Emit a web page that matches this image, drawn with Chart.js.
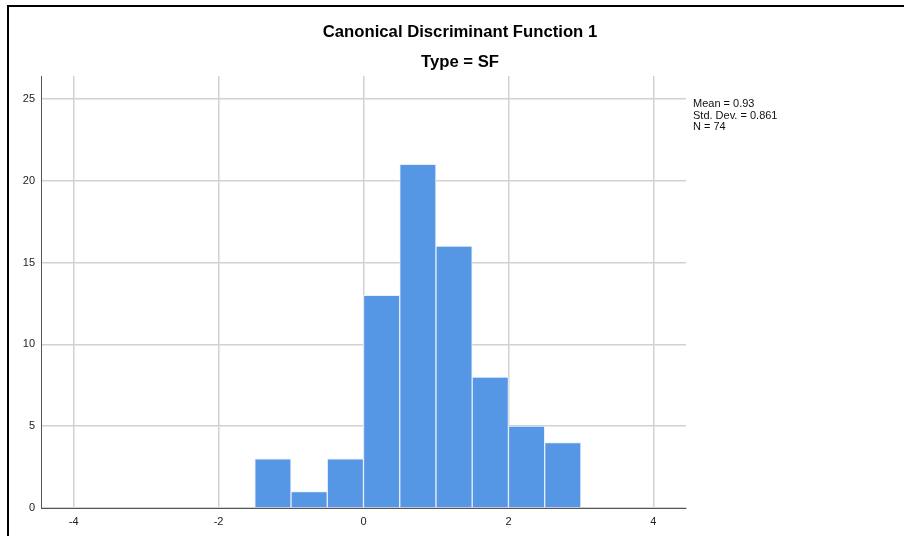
<!DOCTYPE html>
<html>
<head>
<meta charset="UTF-8">
<title>Canonical Discriminant Function 1</title>
<style>
  body { margin: 0; background: #fff; }
  #wrap { position: relative; width: 904px; height: 536px; }
</style>
<script src="https://cdn.jsdelivr.net/npm/chart.js"></script>
</head>
<body>
<div id="wrap"><canvas id="hist" width="904" height="536"></canvas></div>
<script>
// histogram bins (lower edge), width 0.5
const binStarts = [-1.5, -1.0, -0.5, 0.0, 0.5, 1.0, 1.5, 2.0, 2.5];
const counts = [3, 1, 3, 13, 21, 16, 8, 5, 4];
const binWidth = 0.5;
const xTicks = [-4, -2, 0, 2, 4];
const yTicks = [0, 5, 10, 15, 20, 25];
const statLines = ['Mean = 0.93', 'Std. Dev. = 0.861', 'N = 74'];

const points = binStarts.map((s, i) => ({ x: s + binWidth / 2, y: counts[i] }));

const frame = {
  id: 'frame',
  beforeDraw(chart) {
    const c = chart.ctx;
    c.save();
    c.fillStyle = '#fff';
    c.fillRect(0, 0, chart.width, chart.height);
    c.strokeStyle = '#000';
    c.lineWidth = 2;
    c.beginPath();
    c.moveTo(8, 536);
    c.lineTo(8, 6);
    c.lineTo(904, 6);
    c.stroke();
    c.restore();
  },
  afterDraw(chart) {
    const c = chart.ctx;
    c.save();
    c.fillStyle = '#000';
    c.textAlign = 'center';
    c.textBaseline = 'middle';
    c.font = 'bold 16.7px "Liberation Sans", Arial, sans-serif';
    c.fillText('Canonical Discriminant Function 1', 460, 32);
    c.fillText('Type = SF', 460, 62);
    c.textAlign = 'left';
    c.font = '11px "Liberation Sans", Arial, sans-serif';
    c.fillStyle = '#111';
    statLines.forEach((t, i) => c.fillText(t, 693, 104 + i * 11.5));
    c.restore();
  }
};

new Chart(document.getElementById('hist'), {
  type: 'bar',
  data: {
    datasets: [{
      data: points,
      backgroundColor: '#5596e5',
      borderColor: '#e8f0fb',
      borderWidth: 1,
      barPercentage: 1,
      categoryPercentage: 1,
      grouped: false
    }]
  },
  options: {
    responsive: false,
    animation: false,
    events: [],
    layout: { padding: { top: 76, right: 218, left: 0, bottom: 0 } },
    plugins: { legend: { display: false }, tooltip: { enabled: false } },
    scales: {
      x: {
        type: 'linear',
        offset: false,
        min: -4.45,
        max: 4.45,
        afterBuildTicks: s => { s.ticks = xTicks.map(v => ({ value: v })); },
        afterFit: s => { s.height = 28; },
        grid: { offset: false, color: '#d2d2d2', lineWidth: 1.5, drawTicks: false },
        border: { color: '#555', width: 1 },
        ticks: { padding: 7, color: '#222', font: { size: 11, family: '"Liberation Sans", Arial' } }
      },
      y: {
        min: 0,
        max: 26.4,
        afterBuildTicks: s => { s.ticks = yTicks.map(v => ({ value: v })); },
        afterFit: s => { s.width = 41; },
        grid: { color: '#d2d2d2', lineWidth: 1.5, drawTicks: false },
        border: { color: '#555', width: 1 },
        ticks: { padding: 6, color: '#222', font: { size: 11, family: '"Liberation Sans", Arial' } }
      }
    }
  },
  plugins: [frame]
});
</script>
</body>
</html>
